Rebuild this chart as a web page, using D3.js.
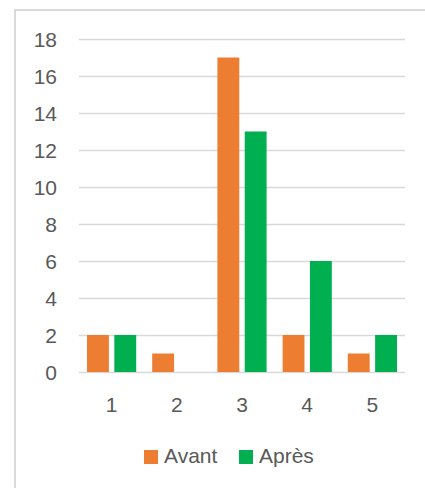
<!DOCTYPE html>
<html>
<head>
<meta charset="utf-8">
<script src="https://cdn.jsdelivr.net/npm/d3@7"></script>
<style>
  body { margin: 0; background: #fff; }
  svg { display: block; font-family: "Liberation Sans", Arial, sans-serif; }
</style>
</head>
<body>
<svg class="chart"></svg>
<script>
const categories = ['1', '2', '3', '4', '5']
const series = ['Avant', 'Après']
const avant = [2, 1, 17, 2, 1]
const apres = [2, 0, 13, 6, 2]
const yTicks = [0, 2, 4, 6, 8, 10, 12, 14, 16, 18]
const colors = ['#ED7D31', '#00B050']

const width = 425
const height = 488

const svg = d3.select('svg.chart').attr('width', width).attr('height', height)

// frame (top + left edges only visible)
svg.append('line').attr('x1', 14).attr('x2', width).attr('y1', 10).attr('y2', 10)
  .attr('stroke', '#d9d9d9').attr('stroke-width', 2)
svg.append('line').attr('x1', 15).attr('x2', 15).attr('y1', 9).attr('y2', height)
  .attr('stroke', '#d9d9d9').attr('stroke-width', 2)

const plotLeft = 79
const plotRight = 405

const y = d3.scaleLinear().domain([0, 18]).range([372, 39])

const x0 = d3.scaleBand().domain(categories).range([plotLeft, plotRight])
const x1 = d3.scaleBand().domain(series).range([8, x0.bandwidth() - 8]).paddingInner(0.2)

// grid lines
svg.append('g')
  .attr('transform', `translate(${plotLeft}, 0)`)
  .call(d3.axisLeft(y).tickValues(yTicks).tickSize(-(plotRight - plotLeft)).tickFormat(''))
  .call(g => g.select('.domain').remove())
  .call(g => g.selectAll('line').attr('stroke', '#d9d9d9').attr('stroke-width', 1.5))

// y labels
svg.append('g')
  .selectAll('text')
  .data(yTicks)
  .enter()
  .append('text')
  .attr('x', 57)
  .attr('y', d => y(d) + 7.5)
  .attr('text-anchor', 'end')
  .attr('font-size', 21)
  .attr('fill', '#595959')
  .text(d => d)

// bars
const rows = categories.map((c, i) => ({ cat: c, values: [avant[i], apres[i]] }))
const groups = svg.selectAll('g.grp')
  .data(rows)
  .enter()
  .append('g')
  .attr('class', 'grp')
  .attr('transform', d => `translate(${x0(d.cat)}, 0)`)

groups.selectAll('rect')
  .data(d => d.values.map((v, j) => ({ key: series[j], value: v, color: colors[j] })))
  .enter()
  .filter(d => d.value > 0)
  .append('rect')
  .attr('x', d => x1(d.key))
  .attr('y', d => y(d.value))
  .attr('width', x1.bandwidth())
  .attr('height', d => y(0) - y(d.value))
  .attr('fill', d => d.color)

// x labels
svg.append('g')
  .selectAll('text')
  .data(categories)
  .enter()
  .append('text')
  .attr('x', d => x0(d) + x0.bandwidth() / 2)
  .attr('y', 412)
  .attr('text-anchor', 'middle')
  .attr('font-size', 21)
  .attr('fill', '#595959')
  .text(d => d)

// legend
const legendX = [144, 239]
const legend = svg.append('g')
series.forEach((s, i) => {
  legend.append('rect')
    .attr('x', legendX[i]).attr('y', 450)
    .attr('width', 14).attr('height', 14)
    .attr('fill', colors[i])
  legend.append('text')
    .attr('x', legendX[i] + 20).attr('y', 463)
    .attr('font-size', 21)
    .attr('fill', '#595959')
    .text(s)
})
</script>
</body>
</html>
